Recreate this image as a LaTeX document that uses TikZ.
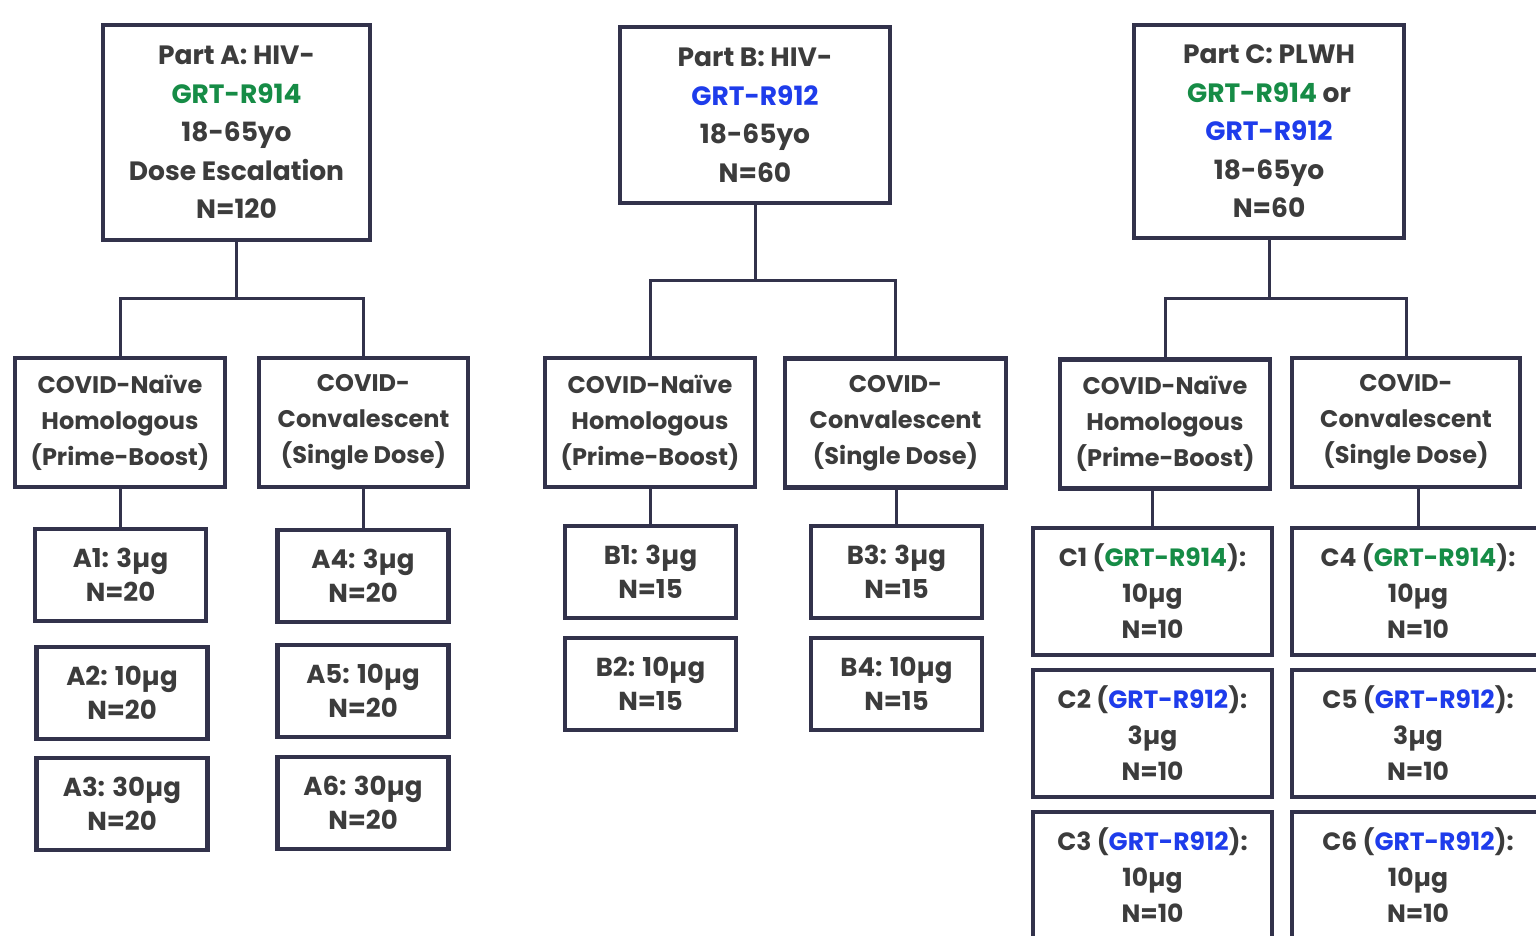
\documentclass[tikz,border=0pt]{standalone}
\usepackage{fontspec}
\setmainfont{Poppins}
\definecolor{bd}{RGB}{50,50,75}
\definecolor{tx}{RGB}{60,60,60}
\definecolor{gr}{RGB}{22,140,70}
\definecolor{bl}{RGB}{30,60,235}
\newcommand{\grn}[1]{\textcolor{gr}{#1}}
\newcommand{\blu}[1]{\textcolor{bl}{#1}}
\begin{document}
\begin{tikzpicture}[x=1pt,y=-1pt,
  box/.style={draw=bd,line width=4.5pt,fill=white,align=center,text=tx,inner sep=0pt},
  topbox/.style={box,font=\bfseries\fontsize{26.5}{38.5}\selectfont},
  midbox/.style={box,minimum height=129pt,font=\bfseries\fontsize{24}{36}\selectfont},
  dosebox/.style={box,minimum width=171pt,minimum height=92pt,font=\bfseries\fontsize{26}{34}\selectfont},
  cbox/.style={box,minimum height=127pt,font=\bfseries\fontsize{25}{36}\selectfont},
  link/.style={draw=bd,line width=3pt}]
\clip (0,0) rectangle (1536,935);
\fill[white] (0,0) rectangle (1536,935);
% top boxes
\node[topbox,minimum width=267pt,minimum height=215pt] (PA) at (236.5,132.5) {Part A: HIV-\\\grn{GRT-R914}\\18-65yo\\Dose Escalation\\N=120};
\node[topbox,minimum width=270pt,minimum height=176pt] (PB) at (755,115) {Part B: HIV-\\\blu{GRT-R912}\\18-65yo\\N=60};
\node[topbox,minimum width=270pt,minimum height=213pt] (PC) at (1269,131.5) {Part C: PLWH\\\grn{GRT-R914} or\\\blu{GRT-R912}\\18-65yo\\N=60};
% middle boxes
\node[midbox,minimum width=210pt] (AN) at (120,422.5) {COVID-Naïve\\Homologous\\(Prime-Boost)};
\node[midbox,minimum width=209pt] (AC) at (363.5,422.5) {COVID-\\Convalescent\\(Single Dose)};
\node[midbox,minimum width=210pt] (BN) at (650,422.5) {COVID-Naïve\\Homologous\\(Prime-Boost)};
\node[midbox,minimum width=221pt] (BC) at (895.5,423) {COVID-\\Convalescent\\(Single Dose)};
\node[midbox,minimum width=210pt] (CN) at (1165,424) {COVID-Naïve\\Homologous\\(Prime-Boost)};
\node[midbox,minimum width=228pt] (CC) at (1406,422.5) {COVID-\\Convalescent\\(Single Dose)};
% dose boxes A
\node[dosebox] (A1) at (120.5,575) {A1: 3µg\\N=20};
\node[dosebox] (A2) at (122,693) {A2: 10µg\\N=20};
\node[dosebox] (A3) at (122,804) {A3: 30µg\\N=20};
\node[dosebox] (A4) at (363,576) {A4: 3µg\\N=20};
\node[dosebox] (A5) at (363,691) {A5: 10µg\\N=20};
\node[dosebox] (A6) at (363,803) {A6: 30µg\\N=20};
% dose boxes B
\node[dosebox] (B1) at (650.5,572) {B1: 3µg\\N=15};
\node[dosebox] (B2) at (650.5,684) {B2: 10µg\\N=15};
\node[dosebox] (B3) at (896.5,572) {B3: 3µg\\N=15};
\node[dosebox] (B4) at (896.5,684) {B4: 10µg\\N=15};
% dose boxes C
\node[cbox,minimum width=239pt] (C1) at (1152.5,591.5) {C1 (\grn{GRT-R914}):\\10µg\\N=10};
\node[cbox,minimum width=239pt] (C2) at (1152.5,733.5) {C2 (\blu{GRT-R912}):\\3µg\\N=10};
\node[cbox,minimum width=239pt] (C3) at (1152.5,875.5) {C3 (\blu{GRT-R912}):\\10µg\\N=10};
\node[cbox,minimum width=252pt] (C4) at (1418,591.5) {C4 (\grn{GRT-R914}):\\10µg\\N=10};
\node[cbox,minimum width=252pt] (C5) at (1418,733.5) {C5 (\blu{GRT-R912}):\\3µg\\N=10};
\node[cbox,minimum width=252pt] (C6) at (1418,875.5) {C6 (\blu{GRT-R912}):\\10µg\\N=10};
% junctions
\coordinate (ja) at (236.5,298);
\coordinate (jb) at (755,280);
\coordinate (jc) at (1269,298);
\draw[link] (PA.south) -- (ja);
\draw[link] (ja) -| (AN.north);
\draw[link] (ja) -| (AC.north);
\draw[link] (PB.south) -- (jb);
\draw[link] (jb) -| (BN.north);
\draw[link] (jb) -| (BC.north);
\draw[link] (PC.south) -- (jc);
\draw[link] (jc) -| (CN.north);
\draw[link] (jc) -| (CC.north);
\draw[link] (A1.north) -- (A1.north |- AN.south);
\draw[link] (A4.north) -- (A4.north |- AC.south);
\draw[link] (B1.north) -- (B1.north |- BN.south);
\draw[link] (B3.north) -- (B3.north |- BC.south);
\draw[link] (C1.north) -- (C1.north |- CN.south);
\draw[link] (C4.north) -- (C4.north |- CC.south);
\end{tikzpicture}
\end{document}
